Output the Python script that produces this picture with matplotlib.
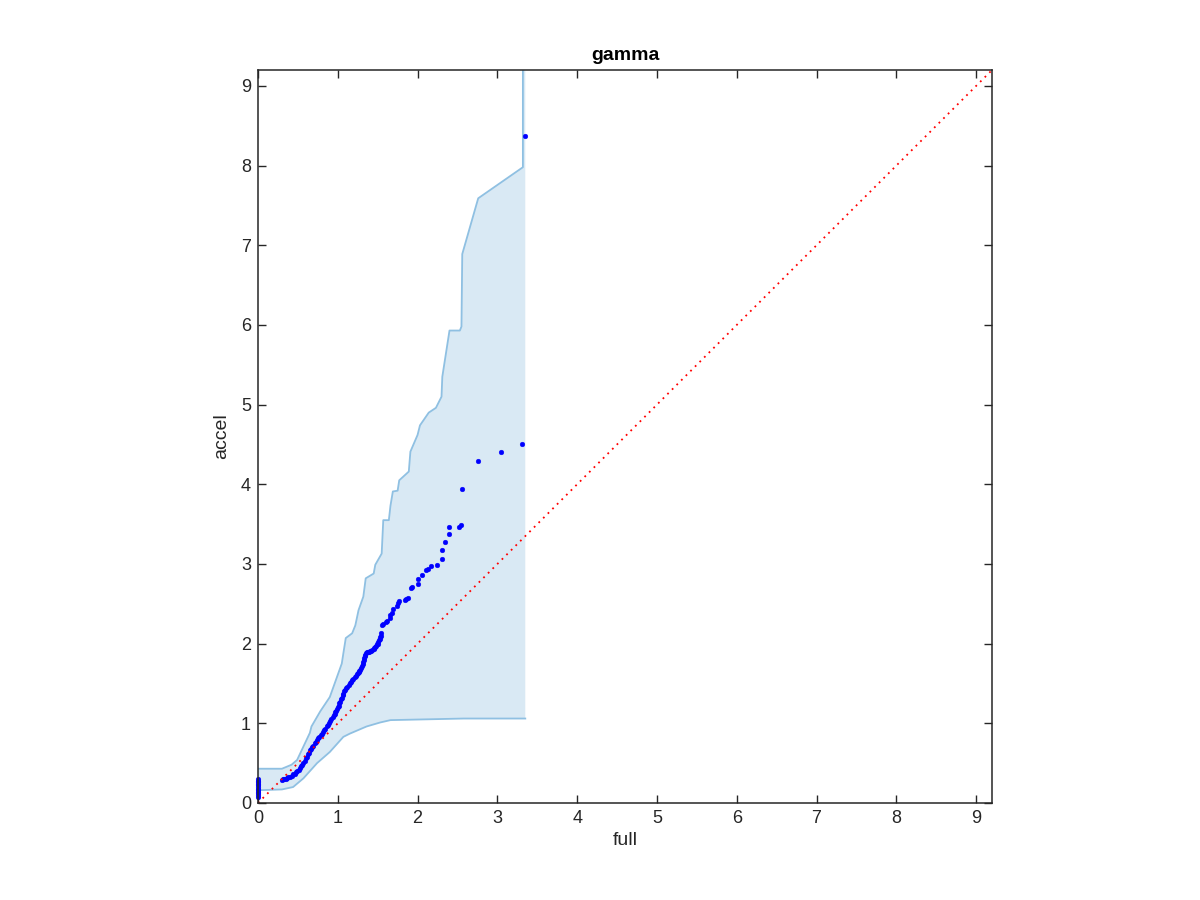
import matplotlib
matplotlib.use("Agg")
import matplotlib.pyplot as plt
import numpy as np

plt.rcParams['font.family'] = ['Liberation Sans', 'DejaVu Sans']

# ---- data ----
upper_x = [0, 0.30, 0.42, 0.49, 0.57, 0.65, 0.67, 0.78, 0.90, 1.05, 1.07, 1.10, 1.18,
           1.22, 1.26, 1.32, 1.35, 1.45, 1.47, 1.55, 1.57, 1.64, 1.66, 1.69, 1.75, 1.77,
           1.89, 1.91, 2.00, 2.03, 2.14, 2.23, 2.30, 2.31, 2.40, 2.53, 2.55, 2.56, 2.76,
           3.32, 3.32]
upper_y = [0.43, 0.43, 0.48, 0.54, 0.71, 0.88, 0.96, 1.15, 1.33, 1.75, 1.88, 2.07, 2.13,
           2.23, 2.42, 2.59, 2.82, 2.88, 2.99, 3.13, 3.55, 3.55, 3.73, 3.91, 3.92, 4.05,
           4.16, 4.41, 4.62, 4.74, 4.90, 4.96, 5.10, 5.35, 5.93, 5.93, 5.98, 6.89, 7.59,
           7.98, 12.0]
lower_x = [0, 0.30, 0.44, 0.57, 0.74, 0.90, 1.07, 1.15, 1.36, 1.53, 1.66, 2.58, 3.35]
lower_y = [0.16, 0.17, 0.20, 0.31, 0.50, 0.64, 0.83, 0.87, 0.96, 1.01, 1.04, 1.06, 1.06]

pts_x = [0, 0, 0, 0, 0, 0, 0, 0, 0, 0, 0, 0,
         0.30, 0.315, 0.33, 0.345, 0.36, 0.38, 0.40, 0.42, 0.44, 0.46, 0.48, 0.495,
         0.51, 0.525, 0.54, 0.555, 0.57, 0.585, 0.60, 0.615, 0.63, 0.64, 0.65, 0.665,
         0.68, 0.695, 0.71, 0.725, 0.74, 0.755, 0.77, 0.785, 0.80, 0.815, 0.83, 0.845,
         0.86, 0.875, 0.89, 0.905, 0.92, 0.935, 0.95, 0.96, 0.97, 0.98, 0.99, 1.00,
         1.01, 1.02, 1.03, 1.04, 1.05, 1.06, 1.07, 1.08, 1.09, 1.105, 1.12, 1.135,
         1.15, 1.165, 1.18, 1.195, 1.21, 1.225, 1.24, 1.25, 1.26, 1.27, 1.28, 1.29,
         1.30, 1.31, 1.32, 1.325, 1.33, 1.335, 1.34, 1.35, 1.36, 1.375, 1.39, 1.405,
         1.42, 1.435, 1.45, 1.46, 1.47, 1.48, 1.49, 1.50, 1.51, 1.52, 1.53, 1.535,
         1.54, 1.545,
         1.56, 1.57, 1.61, 1.62, 1.65, 1.65, 1.68, 1.69, 1.74, 1.76, 1.77, 1.84, 1.86,
         1.88, 1.92, 1.93, 2.00, 2.00, 2.05, 2.11, 2.13, 2.17, 2.24, 2.30, 2.31, 2.35,
         2.39, 2.40, 2.52, 2.54, 2.56, 2.76, 3.04, 3.31, 3.35]
pts_y = [0.08, 0.10, 0.12, 0.14, 0.16, 0.18, 0.20, 0.22, 0.24, 0.26, 0.28, 0.30,
         0.29, 0.295, 0.30, 0.305, 0.31, 0.32, 0.33, 0.34, 0.36, 0.37, 0.39, 0.40,
         0.42, 0.44, 0.46, 0.48, 0.50, 0.53, 0.56, 0.58, 0.61, 0.63, 0.66, 0.68,
         0.70, 0.72, 0.75, 0.77, 0.79, 0.81, 0.83, 0.85, 0.87, 0.89, 0.91, 0.93,
         0.96, 0.98, 1.01, 1.03, 1.06, 1.08, 1.10, 1.12, 1.14, 1.16, 1.18, 1.20,
         1.22, 1.25, 1.27, 1.30, 1.32, 1.35, 1.37, 1.40, 1.42, 1.44, 1.46, 1.48,
         1.50, 1.52, 1.54, 1.56, 1.58, 1.60, 1.62, 1.63, 1.64, 1.66, 1.67, 1.69,
         1.72, 1.74, 1.77, 1.79, 1.82, 1.84, 1.86, 1.88, 1.89, 1.90, 1.90, 1.91,
         1.91, 1.92, 1.93, 1.94, 1.96, 1.97, 1.99, 2.00, 2.02, 2.04, 2.06, 2.08,
         2.10, 2.13,
         2.24, 2.25, 2.27, 2.28, 2.32, 2.36, 2.39, 2.43, 2.47, 2.51, 2.53, 2.55, 2.56,
         2.57, 2.70, 2.71, 2.75, 2.81, 2.86, 2.93, 2.94, 2.97, 2.99, 3.06, 3.17, 3.28,
         3.38, 3.47, 3.47, 3.49, 3.94, 4.29, 4.40, 4.50, 8.37]

ref_line = [0, 9.2]
ticks = list(range(10))

# ---- figure ----
fig = plt.figure(figsize=(12, 9), dpi=100)
ax = fig.add_axes([0.215, 0.1078, 0.6117, 0.8144])

poly_x = upper_x[:-1] + [upper_x[-1], lower_x[-1]] + lower_x[::-1]
poly_y = upper_y[:-1] + [upper_y[-1], upper_y[-1]] + lower_y[::-1]
ax.fill(poly_x, poly_y, color='#d9e9f4', lw=0, zorder=1)
ax.plot(upper_x, upper_y, color='#8fc0e2', lw=1.3, zorder=2)
ax.plot(lower_x, lower_y, color='#8fc0e2', lw=1.3, zorder=2)

ax.plot(pts_x, pts_y, 'o', color='#0000ff', ms=3.4, mec='#0000ff', mew=0.3,
        zorder=3, clip_on=False)
ax.plot(ref_line, ref_line, color='#ff0000', lw=1.3, linestyle=(0, (1, 2.6)), zorder=4)

ax.set_xlim(0, 9.2)
ax.set_ylim(0, 9.2)
ax.set_xticks(ticks)
ax.set_yticks(ticks)
ax.tick_params(direction='in', length=6, width=1, colors='#262626', labelsize=13,
               top=True, right=True, pad=5)
for s in ax.spines.values():
    s.set_color('#262626')
    s.set_linewidth(1.1)
    s.set_zorder(5)

ax.set_xlabel('full', fontsize=14, color='#262626', labelpad=4)
ax.set_ylabel('accel', fontsize=14, color='#262626', labelpad=8)
ax.set_title('gamma', fontsize=14, fontweight='bold', color='black', pad=7)

fig.savefig('out.png', dpi=100)
